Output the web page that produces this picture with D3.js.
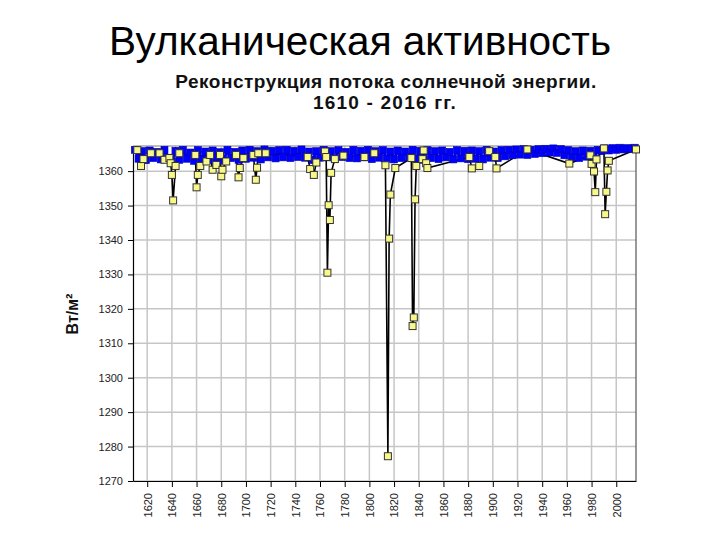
<!DOCTYPE html>
<html><head><meta charset="utf-8">
<script src="https://cdn.jsdelivr.net/npm/d3@7"></script>
<style>body{margin:0;background:#fff;}svg{display:block;}</style>
</head><body>
<svg id="c" width="720" height="540"></svg>
<script>
const pageTitle = "Вулканическая активность";
const chartTitle1 = "Реконструкция потока солнечной энергии.";
const chartTitle2 = "1610 - 2016 гг.";
const yLabel = "Вт/м²";
const xTicks = [1620,1640,1660,1680,1700,1720,1740,1760,1780,1800,1820,1840,1860,1880,1900,1920,1940,1960,1980,2000];
const yTicks = [1270,1280,1290,1300,1310,1320,1330,1340,1350,1360];

// blue series (general level), every 3 years from 1610
const blueYears = d3.range(1610, 2016, 3);
const blueValues = [
 1366.2,1363.6,1365.8,1363.2,1366.0,1363.8,1365.6,1363.4,1366.2,1363.9,
 1362.8,1365.9,1363.3,1366.2,1363.6,1365.4,1363.0,1366.1,1363.5,1365.7,
 1363.2,1366.0,1363.7,1365.5,1363.1,1366.2,1363.8,1365.6,1363.3,1366.0,
 1363.6,1366.2,1363.9,1365.8,1363.4,1366.3,1364.0,1365.9,1363.7,1366.1,
 1364.0,1366.2,1363.8,1365.9,1364.1,1366.3,1363.9,1365.7,1363.2,1365.8,
 1363.9,1366.2,1364.0,1365.8,1363.6,1366.1,1364.1,1365.6,1363.8,1366.2,
 1363.7,1365.9,1364.0,1366.2,1363.5,1365.8,1363.9,1366.1,1363.6,1365.7,
 1363.4,1366.0,1363.8,1365.7,1364.0,1366.2,1363.6,1365.9,1363.3,1366.1,
 1363.8,1365.8,1363.5,1366.0,1364.0,1365.6,1363.4,1366.1,1363.7,1365.9,
 1363.5,1366.0,1363.6,1365.8,1363.4,1366.2,1363.9,1365.7,1363.8,1366.1,
 1364.3,1366.2,1364.6,1366.3,1364.8,1366.4,1364.7,1366.2,1365.0,1366.4,
 1365.2,1366.5,1365.4,1366.6,1365.3,1366.4,1364.6,1366.1,1364.0,1365.8,
 1363.8,1366.0,1364.2,1365.9,1363.6,1366.2,1365.8,1366.6,1366.0,1366.7,
 1366.2,1366.8,1366.3,1366.7,1366.4,1366.8
];

// yellow series (volcanic reconstruction)
const yellowYears = [1612,1615,1617,1623,1630,1634,1638,1639,1640,1641,1643,1646,
 1659,1660,1661,1663,1668,1671,1673,1676,1679,1680,1681,1684,1692,1694,1695,1698,
 1706,1708,1709,1710,1716,1750,1752,1755,1757,1764,1765,1766,1767,1768,1769,1772,
 1779,1796,1804,1813,1815,1816,1817,1821,1834,1835,1836,1837,1838,1843,1844,1846,1847,
 1881,1883,1889,1897,1902,1903,1928,1962,1979,1980,1982,1983,1984,1990,1991,1992,1993,1994,2016];
const yellowValues = [1366.1,1361.5,1363.5,1365.2,1365.2,1363.3,1363.8,1362.3,1358.9,1351.5,1361.5,1365.2,
 1364.7,1355.3,1358.9,1361.5,1362.8,1364.7,1360.4,1361.8,1364.7,1358.5,1360.4,1362.8,1364.7,1358.2,1360.9,1363.8,
 1364.7,1357.5,1361.0,1365.2,1365.2,1364.1,1360.6,1358.9,1362.5,1365.7,1364.1,1330.5,1350.1,1345.8,1359.5,1363.5,
 1364.5,1364.1,1365.2,1361.7,1277.2,1340.4,1353.2,1360.9,1363.8,1315.0,1317.5,1351.8,1361.5,1363.5,1366.0,1362.3,1360.9,
 1364.1,1360.8,1361.5,1365.8,1364.1,1360.8,1366.3,1362.2,1364.6,1362.1,1359.9,1353.9,1363.4,1366.6,1347.5,1354.0,1360.2,1363.0,1366.3];

const svg = d3.select("#c");
svg.append("rect").attr("width",720).attr("height",540).attr("fill","#fff");

const L = 133, R = 636, T = 146, B = 481;
const x = d3.scaleLinear().domain([1608.5, 2016]).range([L, R]);
const y = d3.scaleLinear().domain([1270, 1367.3]).range([B, T]);
const FF = "Liberation Sans, Arial, sans-serif";

// titles
svg.append("text").attr("x",360).attr("y",55).attr("text-anchor","middle")
  .attr("font-family",FF).attr("font-size",40.5).attr("fill","#000").text(pageTitle);
svg.append("text").attr("x",386).attr("y",88).attr("text-anchor","middle")
  .attr("font-family",FF).attr("font-weight","bold").attr("font-size",19).attr("letter-spacing",0.5).attr("fill","#111").text(chartTitle1);
svg.append("text").attr("x",385).attr("y",109).attr("text-anchor","middle")
  .attr("font-family",FF).attr("font-weight","bold").attr("font-size",19).attr("letter-spacing",1.2).attr("fill","#111").text(chartTitle2);

// grid
const g = svg.append("g");
g.selectAll(".hg").data(yTicks).join("line")
  .attr("x1",L).attr("x2",R).attr("y1",d=>y(d)).attr("y2",d=>y(d))
  .attr("stroke","#c6c6c6").attr("stroke-width",1.5);
g.selectAll(".vg").data(xTicks).join("line")
  .attr("y1",T).attr("y2",B).attr("x1",d=>x(d)).attr("x2",d=>x(d))
  .attr("stroke","#c6c6c6").attr("stroke-width",1.5);
g.append("line").attr("x1",L).attr("x2",R).attr("y1",T).attr("y2",T).attr("stroke","#a8a8a8").attr("stroke-width",1.5);
g.append("line").attr("x1",R).attr("x2",R).attr("y1",T).attr("y2",B).attr("stroke","#555").attr("stroke-width",1.2);

// axes
const yAxis = svg.append("g").attr("transform",`translate(${L},0)`)
  .call(d3.axisLeft(y).tickValues(yTicks).tickSize(5).tickSizeOuter(0).tickFormat(d3.format("d")));
yAxis.selectAll("text").attr("font-family",FF).attr("font-size",11).attr("fill","#222").attr("x",-10);
const xAxis = svg.append("g").attr("transform",`translate(0,${B})`)
  .call(d3.axisBottom(x).tickValues(xTicks).tickSize(6).tickSizeOuter(0).tickFormat(d3.format("d")));
xAxis.selectAll("text").attr("font-family",FF).attr("font-size",11).attr("fill","#222")
  .attr("transform","rotate(-90)").attr("x",-12).attr("y",0).attr("dy","0.35em").style("text-anchor","end");
svg.selectAll(".domain").attr("stroke","#000").attr("stroke-width",1.2);
svg.selectAll(".tick line").attr("stroke","#000");

svg.append("text").attr("transform","translate(78,314) rotate(-90)").attr("text-anchor","middle")
  .attr("font-family",FF).attr("font-weight","bold").attr("font-size",16).attr("fill","#111").text(yLabel);

// data
const yellow = yellowYears.map((yr,i)=>({yr, v:yellowValues[i]}));
const blue = blueYears.map((yr,i)=>({yr, v:blueValues[i]}));
const line = d3.line().x(d=>x(d.yr)).y(d=>y(d.v));

svg.append("path").datum(yellow).attr("d",line).attr("fill","none").attr("stroke","#000").attr("stroke-width",1.6);
svg.append("path").datum(blue).attr("d",line).attr("fill","none").attr("stroke","#0000ff").attr("stroke-width",3);
svg.selectAll(".bm").data(blue).join("rect")
  .attr("x",d=>x(d.yr)-3.5).attr("y",d=>y(d.v)-3.5).attr("width",7).attr("height",7)
  .attr("fill","#0000ff").attr("stroke","#0000b0").attr("stroke-width",0.6);
svg.selectAll(".ym").data(yellow).join("rect")
  .attr("x",d=>x(d.yr)-3.5).attr("y",d=>y(d.v)-3.5).attr("width",7).attr("height",7)
  .attr("fill","#f8f88a").attr("stroke","#333").attr("stroke-width",1);
</script>
</body></html>
